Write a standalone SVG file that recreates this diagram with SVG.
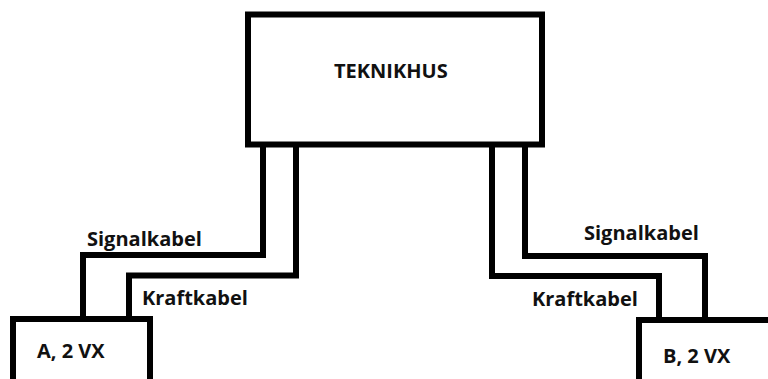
<svg xmlns="http://www.w3.org/2000/svg" width="768" height="379" viewBox="0 0 768 379">
<style>
.box{fill:#fff;stroke:#000;stroke-width:6}
.cable{fill:none;stroke:#000;stroke-width:6;stroke-linejoin:miter}
text{font-family:"Open Sans","DejaVu Sans",sans-serif;font-weight:bold;font-size:20px;fill:#111}
</style>
<rect width="768" height="379" fill="#fff"/>
<g id="connectors">
<path class="cable" d="M263,144 V255 H83 V319"/>
<path class="cable" d="M296,144 V275.5 H129 V319"/>
<path class="cable" d="M492,144 V276 H659 V320"/>
<path class="cable" d="M525,144 V256 H705 V320"/>
<text x="87" y="246">Signalkabel</text>
<text x="142" y="305">Kraftkabel</text>
<text x="584" y="240">Signalkabel</text>
<text x="532" y="306">Kraftkabel</text>
</g>
<g id="teknikhus">
<rect class="box" x="248" y="14.5" width="294" height="130"/>
<text x="334" y="78">TEKNIKHUS</text>
</g>
<g id="nodeA">
<rect class="box" x="13" y="319" width="137" height="80"/>
<text x="37" y="358">A, 2 VX</text>
</g>
<g id="nodeB">
<rect class="box" x="639" y="320" width="140" height="80"/>
<text x="663" y="363">B, 2 VX</text>
</g>
</svg>
